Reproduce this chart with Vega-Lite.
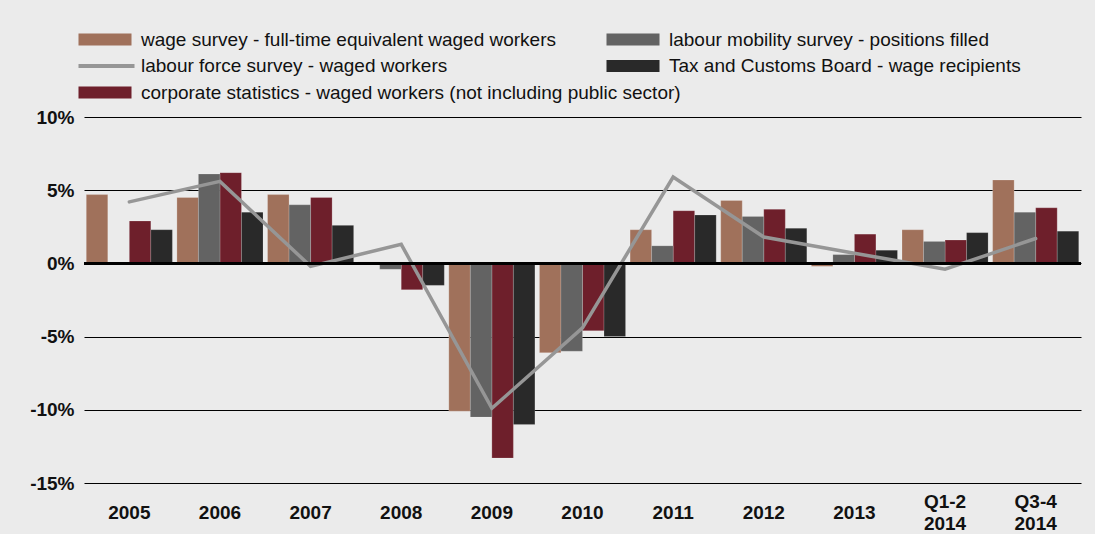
{
  "$schema": "https://vega.github.io/schema/vega-lite/v6.json",
  "width": 997,
  "height": 366,
  "autosize": "none",
  "padding": {"left": 84, "top": 117, "right": 14, "bottom": 51},
  "background": "#ebebeb",
  "config": {
    "view": {"stroke": null},
    "font": "Liberation Sans"
  },
  "data": {
    "values": [
      {"period": "2005", "series": "wage survey - full-time equivalent waged workers", "value": 4.7},
      {"period": "2005", "series": "corporate statistics - waged workers (not including public sector)", "value": 2.9},
      {"period": "2005", "series": "Tax and Customs Board - wage recipients", "value": 2.3},
      {"period": "2005", "series": "labour force survey - waged workers", "value": 4.2},
      {"period": "2006", "series": "wage survey - full-time equivalent waged workers", "value": 4.5},
      {"period": "2006", "series": "labour mobility survey - positions filled", "value": 6.1},
      {"period": "2006", "series": "corporate statistics - waged workers (not including public sector)", "value": 6.2},
      {"period": "2006", "series": "Tax and Customs Board - wage recipients", "value": 3.5},
      {"period": "2006", "series": "labour force survey - waged workers", "value": 5.6},
      {"period": "2007", "series": "wage survey - full-time equivalent waged workers", "value": 4.7},
      {"period": "2007", "series": "labour mobility survey - positions filled", "value": 4.0},
      {"period": "2007", "series": "corporate statistics - waged workers (not including public sector)", "value": 4.5},
      {"period": "2007", "series": "Tax and Customs Board - wage recipients", "value": 2.6},
      {"period": "2007", "series": "labour force survey - waged workers", "value": -0.2},
      {"period": "2008", "series": "wage survey - full-time equivalent waged workers", "value": 0.1},
      {"period": "2008", "series": "labour mobility survey - positions filled", "value": -0.4},
      {"period": "2008", "series": "corporate statistics - waged workers (not including public sector)", "value": -1.8},
      {"period": "2008", "series": "Tax and Customs Board - wage recipients", "value": -1.5},
      {"period": "2008", "series": "labour force survey - waged workers", "value": 1.3},
      {"period": "2009", "series": "wage survey - full-time equivalent waged workers", "value": -10.1},
      {"period": "2009", "series": "labour mobility survey - positions filled", "value": -10.5},
      {"period": "2009", "series": "corporate statistics - waged workers (not including public sector)", "value": -13.3},
      {"period": "2009", "series": "Tax and Customs Board - wage recipients", "value": -11.0},
      {"period": "2009", "series": "labour force survey - waged workers", "value": -9.9},
      {"period": "2010", "series": "wage survey - full-time equivalent waged workers", "value": -6.1},
      {"period": "2010", "series": "labour mobility survey - positions filled", "value": -6.0},
      {"period": "2010", "series": "corporate statistics - waged workers (not including public sector)", "value": -4.6},
      {"period": "2010", "series": "Tax and Customs Board - wage recipients", "value": -5.0},
      {"period": "2010", "series": "labour force survey - waged workers", "value": -4.4},
      {"period": "2011", "series": "wage survey - full-time equivalent waged workers", "value": 2.3},
      {"period": "2011", "series": "labour mobility survey - positions filled", "value": 1.2},
      {"period": "2011", "series": "corporate statistics - waged workers (not including public sector)", "value": 3.6},
      {"period": "2011", "series": "Tax and Customs Board - wage recipients", "value": 3.3},
      {"period": "2011", "series": "labour force survey - waged workers", "value": 5.9},
      {"period": "2012", "series": "wage survey - full-time equivalent waged workers", "value": 4.3},
      {"period": "2012", "series": "labour mobility survey - positions filled", "value": 3.2},
      {"period": "2012", "series": "corporate statistics - waged workers (not including public sector)", "value": 3.7},
      {"period": "2012", "series": "Tax and Customs Board - wage recipients", "value": 2.4},
      {"period": "2012", "series": "labour force survey - waged workers", "value": 1.8},
      {"period": "2013", "series": "wage survey - full-time equivalent waged workers", "value": -0.2},
      {"period": "2013", "series": "labour mobility survey - positions filled", "value": 0.6},
      {"period": "2013", "series": "corporate statistics - waged workers (not including public sector)", "value": 2.0},
      {"period": "2013", "series": "Tax and Customs Board - wage recipients", "value": 0.9},
      {"period": "2013", "series": "labour force survey - waged workers", "value": 0.7},
      {"period": "Q1-2 2014", "series": "wage survey - full-time equivalent waged workers", "value": 2.3},
      {"period": "Q1-2 2014", "series": "labour mobility survey - positions filled", "value": 1.5},
      {"period": "Q1-2 2014", "series": "corporate statistics - waged workers (not including public sector)", "value": 1.6},
      {"period": "Q1-2 2014", "series": "Tax and Customs Board - wage recipients", "value": 2.1},
      {"period": "Q1-2 2014", "series": "labour force survey - waged workers", "value": -0.4},
      {"period": "Q3-4 2014", "series": "wage survey - full-time equivalent waged workers", "value": 5.7},
      {"period": "Q3-4 2014", "series": "labour mobility survey - positions filled", "value": 3.5},
      {"period": "Q3-4 2014", "series": "corporate statistics - waged workers (not including public sector)", "value": 3.8},
      {"period": "Q3-4 2014", "series": "Tax and Customs Board - wage recipients", "value": 2.2},
      {"period": "Q3-4 2014", "series": "labour force survey - waged workers", "value": 1.7}
    ]
  },
  "encoding": {
    "x": {
      "field": "period",
      "type": "nominal",
      "title": null,
      "scale": {
        "domain": ["2005", "2006", "2007", "2008", "2009", "2010", "2011", "2012", "2013", "Q1-2 2014", "Q3-4 2014"],
        "paddingInner": 0.05,
        "paddingOuter": 0.025
      },
      "axis": {
        "domain": false,
        "ticks": false,
        "tickSize": 0,
        "labelAngle": 0,
        "labelFont": "Liberation Sans",
        "labelFontSize": 19,
        "labelFontWeight": "bold",
        "labelColor": "#111111",
        "labelBaseline": "middle",
        "labelLineHeight": 22.5,
        "labelPadding": {"condition": {"test": "indexof(datum.label, ' ') > 0", "value": 18}, "value": 29},
        "labelExpr": "indexof(datum.label, ' ') > 0 ? split(datum.label, ' ') : datum.label"
      }
    },
    "y": {
      "field": "value",
      "type": "quantitative",
      "title": null,
      "scale": {"domain": [-15, 10], "nice": false, "zero": false},
      "axis": {
        "values": [-15, -10, -5, 0, 5, 10],
        "domain": false,
        "ticks": false,
        "tickSize": 0,
        "grid": true,
        "gridColor": "#000000",
        "gridWidth": 1.2,
        "gridOpacity": 1,
        "labelFont": "Liberation Sans",
        "labelFontSize": 19,
        "labelFontWeight": "bold",
        "labelColor": "#111111",
        "labelPadding": 10,
        "labelExpr": "datum.value + '%'"
      }
    }
  },
  "layer": [
    {
      "transform": [
        {"filter": {"field": "series", "oneOf": ["wage survey - full-time equivalent waged workers", "corporate statistics - waged workers (not including public sector)"]}}
      ],
      "mark": {"type": "bar", "stroke": "#ffffff", "strokeWidth": 1, "strokeOpacity": 0.2},
      "encoding": {
        "xOffset": {
          "field": "series",
          "type": "nominal",
          "scale": {
            "domain": ["wage survey - full-time equivalent waged workers", "labour mobility survey - positions filled", "corporate statistics - waged workers (not including public sector)", "Tax and Customs Board - wage recipients"],
            "paddingInner": 0,
            "paddingOuter": 0
          }
        },
        "fill": {
          "field": "series",
          "type": "nominal",
          "scale": {
            "domain": ["wage survey - full-time equivalent waged workers", "labour force survey - waged workers", "corporate statistics - waged workers (not including public sector)"],
            "range": ["#a0715b", "rgba(0,0,0,0)", "#6e1f2b"]
          },
          "legend": {
            "title": null,
            "orient": "none",
            "legendX": -10,
            "legendY": -87,
            "direction": "vertical",
            "padding": 0,
            "symbolType": "M-1,-1.2H9.6V1.2H-1Z",
            "symbolSize": 100,
            "symbolStrokeWidth": 0,
            "labelOffset": 48,
            "labelFont": "Liberation Sans",
            "labelFontSize": 19,
            "labelColor": "#111111",
            "labelLimit": 1000,
            "rowPadding": 6.5,
            "labelExpr": "datum.label === 'labour force survey - waged workers' ? ' ' : datum.label"
          }
        }
      }
    },
    {
      "transform": [
        {"filter": {"field": "series", "oneOf": ["labour mobility survey - positions filled", "Tax and Customs Board - wage recipients"]}}
      ],
      "mark": {"type": "bar", "stroke": "#ffffff", "strokeWidth": 1, "strokeOpacity": 0.15},
      "encoding": {
        "xOffset": {"field": "series", "type": "nominal"},
        "color": {
          "field": "series",
          "type": "nominal",
          "scale": {
            "domain": ["labour mobility survey - positions filled", "Tax and Customs Board - wage recipients"],
            "range": ["#636363", "#292929"]
          },
          "legend": {
            "title": null,
            "orient": "none",
            "legendX": 518,
            "legendY": -87,
            "direction": "vertical",
            "padding": 0,
            "symbolType": "M-1,-1.2H9.6V1.2H-1Z",
            "symbolSize": 100,
            "symbolStrokeWidth": 0,
            "labelOffset": 48,
            "labelFont": "Liberation Sans",
            "labelFontSize": 19,
            "labelColor": "#111111",
            "labelLimit": 1000,
            "rowPadding": 6.5
          }
        }
      }
    },
    {
      "transform": [
        {"filter": {"field": "series", "equal": "labour force survey - waged workers"}}
      ],
      "mark": {"type": "line", "strokeWidth": 3.5, "strokeCap": "round"},
      "encoding": {
        "stroke": {
          "field": "series",
          "type": "nominal",
          "scale": {"domain": ["labour force survey - waged workers"], "range": ["#969696"]},
          "legend": {
            "title": null,
            "orient": "none",
            "legendX": -10,
            "legendY": -60.5,
            "direction": "vertical",
            "padding": 0,
            "symbolType": "M-1,0H10.2",
            "symbolSize": 100,
            "symbolStrokeWidth": 4,
            "labelOffset": 48,
            "labelFont": "Liberation Sans",
            "labelFontSize": 19,
            "labelColor": "#111111",
            "labelLimit": 1000
          }
        }
      }
    },
    {
      "mark": {"type": "rule", "color": "#000000", "strokeWidth": 2.5},
      "encoding": {"y": {"datum": 0}, "x": null}
    }
  ]
}
